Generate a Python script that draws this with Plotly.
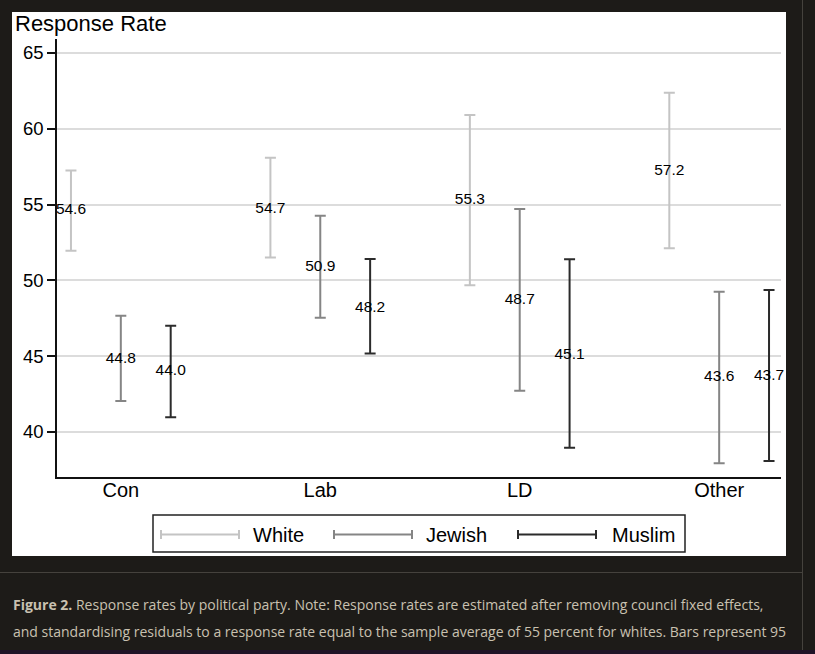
import plotly.graph_objects as go

# ---- data ----
categories = ["Con", "Lab", "LD", "Other"]
groups = ["White", "Jewish", "Muslim"]
white_vals = [54.6, 54.7, 55.3, 57.2]
white_lo = [51.96, 51.5, 49.68, 52.12]
white_hi = [57.24, 58.09, 60.9, 62.38]
jewish_vals = [44.8, 50.9, 48.7, 43.6]
jewish_lo = [42.04, 47.54, 42.72, 37.93]
jewish_hi = [47.67, 54.27, 54.71, 49.25]
muslim_vals = [44.0, 48.2, 45.1, 43.7]
muslim_lo = [40.97, 45.17, 38.96, 38.09]
muslim_hi = [47.01, 51.41, 51.39, 49.37]
y_ticks = [40, 45, 50, 55, 60, 65]

series = [
    ("White", white_vals, white_lo, white_hi, "#c4c4c4", -0.25),
    ("Jewish", jewish_vals, jewish_lo, jewish_hi, "#858585", 0.0),
    ("Muslim", muslim_vals, muslim_lo, muslim_hi, "#2b2b2b", 0.25),
]

W, H = 815, 654
L, R, T, B = 57, 34, 39, 177
PW, PH = W - L - R, H - T - B


def px(x):
    return (x - L) / PW


def py(y):
    return (H - B - y) / PH


FONT = "Liberation Sans, Arial, Helvetica, sans-serif"

fig = go.Figure()
cat_pos = list(range(1, len(categories) + 1))
for name, vals, lo, hi, col, off in series:
    xs = [c + off for c in cat_pos]
    fig.add_trace(go.Scatter(
        x=xs, y=vals, mode="text", name=name,
        text=[f"{v:.1f}" for v in vals],
        textposition="middle center",
        textfont=dict(family=FONT, size=15.5, color="black"),
        cliponaxis=False,
        error_y=dict(type="data", symmetric=False,
                     array=[h - v for h, v in zip(hi, vals)],
                     arrayminus=[v - l for l, v in zip(lo, vals)],
                     color=col, thickness=2, width=5.5),
        showlegend=False, hoverinfo="skip",
    ))

shapes = []
annotations = []
# white panel behind chart
shapes.append(dict(type="rect", xref="paper", yref="paper", layer="below",
                   x0=px(12), x1=px(786), y0=py(556), y1=py(12),
                   fillcolor="white", line=dict(width=0)))
# page lines
shapes.append(dict(type="line", xref="paper", yref="paper", layer="below",
                   x0=px(0), x1=px(802), y0=py(572.5), y1=py(572.5),
                   line=dict(color="#45423d", width=1)))
shapes.append(dict(type="line", xref="paper", yref="paper", layer="below",
                   x0=px(802.5), x1=px(802.5), y0=py(650), y1=py(0),
                   line=dict(color="#45423d", width=1)))
shapes.append(dict(type="rect", xref="paper", yref="paper", layer="below",
                   x0=px(0), x1=px(815), y0=py(654), y1=py(650),
                   fillcolor="#1f1326", line=dict(width=0)))

# manual legend
shapes.append(dict(type="rect", xref="paper", yref="paper",
                   x0=px(153), x1=px(685), y0=py(552), y1=py(515),
                   line=dict(color="#222", width=1.5), fillcolor="rgba(0,0,0,0)"))
leg_items = [(161, 239, 251), (334, 412, 424), (518, 596, 610)]
ly = 534.5
for (x0, x1, tx), (name, *_rest) in zip(leg_items, series):
    col = _rest[3]
    shapes.append(dict(type="line", xref="paper", yref="paper",
                       x0=px(x0), x1=px(x1), y0=py(ly), y1=py(ly),
                       line=dict(color=col, width=2)))
    for xc in (x0, x1):
        shapes.append(dict(type="line", xref="paper", yref="paper",
                           x0=px(xc), x1=px(xc), y0=py(ly - 4.5), y1=py(ly + 4.5),
                           line=dict(color=col, width=2)))
    annotations.append(dict(xref="paper", yref="paper", x=px(tx), y=py(ly),
                            xanchor="left", yanchor="middle", showarrow=False,
                            text=name, font=dict(family=FONT, size=20, color="black")))

# y-axis title at top-left
annotations.append(dict(xref="paper", yref="paper", x=px(13), y=py(23),
                        xanchor="left", yanchor="middle", showarrow=False,
                        text="Response Rate",
                        font=dict(family=FONT, size=22, color="black")))

# caption
CAP = "Open Sans, Noto Sans, sans-serif"
annotations.append(dict(xref="paper", yref="paper", x=px(11), y=py(604),
                        xanchor="left", yanchor="middle", showarrow=False,
                        text="<b>Figure 2.</b> Response rates by political party. Note: Response rates are estimated after removing council fixed effects,",
                        font=dict(family=CAP, size=14, color="#c9c1b0")))
annotations.append(dict(xref="paper", yref="paper", x=px(11), y=py(631),
                        xanchor="left", yanchor="middle", showarrow=False,
                        text="and standardising residuals to a response rate equal to the sample average of 55 percent for whites. Bars represent 95",
                        font=dict(family=CAP, size=14, color="#c9c1b0")))

fig.update_layout(
    width=W, height=H,
    margin=dict(l=L, r=R, t=T, b=B, pad=0),
    paper_bgcolor="#1d1b18",
    plot_bgcolor="white",
    showlegend=False,
    shapes=shapes,
    annotations=annotations,
    xaxis=dict(range=[0.68, 4.31], tickmode="array", tickvals=cat_pos,
               ticktext=categories, showgrid=False, zeroline=False,
               showline=True, linecolor="#111", linewidth=2, ticks="",
               ticklabelstandoff=-6,
               tickfont=dict(family=FONT, size=20, color="black"),
               fixedrange=True),
    yaxis=dict(range=[37.03, 65.92], tickmode="array", tickvals=y_ticks,
               showgrid=True, gridcolor="#dcdcdc", gridwidth=1.5,
               zeroline=False, showline=True, linecolor="#111", linewidth=1.5,
               ticks="outside", ticklen=8, tickwidth=1.5, tickcolor="#111",
               tickfont=dict(family=FONT, size=18.5, color="black"),
               fixedrange=True),
)

fig.write_html("out.html")
